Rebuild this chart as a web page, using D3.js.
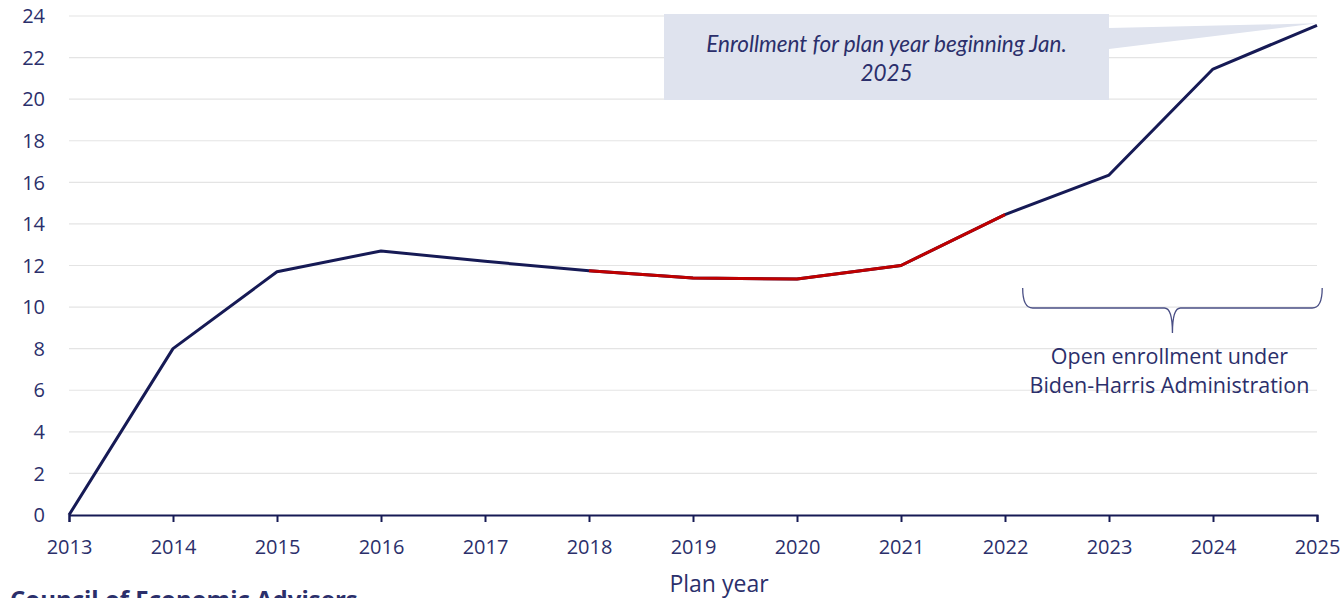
<!DOCTYPE html>
<html>
<head>
<meta charset="utf-8">
<script src="https://cdn.jsdelivr.net/npm/d3@7"></script>
<style>
  body { margin: 0; background: #fff; overflow: hidden; }
  text { font-family: "Open Sans", sans-serif; fill: #2b2f6b; }
</style>
</head>
<body>
<script>
// plan years and enrollment (millions)
const years = [2013, 2014, 2015, 2016, 2017, 2018, 2019, 2020, 2021, 2022, 2023, 2024, 2025];
const enrollment = [0, 8.0, 11.7, 12.7, 12.2, 11.75, 11.4, 11.35, 12.0, 14.45, 16.35, 21.45, 23.55];
const redYears = [2018, 2019, 2020, 2021, 2022];
const yTicks = [0, 2, 4, 6, 8, 10, 12, 14, 16, 18, 20, 22, 24];
const calloutLines = ['Enrollment for plan year beginning Jan.', '2025'];
const braceYears = [2022.17, 2025.05];
const braceLines = ['Open enrollment under', 'Biden-Harris Administration'];

const W = 1343, H = 598;
const navy = '#161a55', red = '#c00000', ink = '#2b2f6b';

const svg = d3.select('body').append('svg')
              .attr('width', W)
              .attr('height', H)

const x = d3.scaleLinear().domain([2013, 2025]).range([69, 1317]);
const y = d3.scaleLinear().domain([0, 24]).range([515, 16]);

// gridlines
svg.append('g')
   .selectAll('line')
   .data(yTicks.filter(d => d > 0))
   .enter()
   .append('line')
   .attr('x1', x(2013))
   .attr('x2', x(2025))
   .attr('y1', d => y(d))
   .attr('y2', d => y(d))
   .attr('stroke', '#e4e4e4')
   .attr('stroke-width', 1.2)

// y labels
svg.append('g')
   .selectAll('text')
   .data(yTicks)
   .enter()
   .append('text')
   .attr('x', 45)
   .attr('y', d => y(d))
   .attr('dy', '0.36em')
   .attr('text-anchor', 'end')
   .style('font-size', '20px')
   .text(d => d)

// x axis
const xAxis = svg.append('g')
   .attr('transform', `translate(0,${y(0)})`)
   .call(d3.axisBottom(x).tickValues(years).tickFormat(d3.format('d')).tickSize(7).tickPadding(18))
xAxis.select('.domain').attr('stroke', navy).attr('stroke-width', 2)
xAxis.selectAll('.tick line').attr('stroke', navy).attr('stroke-width', 2)
xAxis.selectAll('.tick text')
     .style('font-size', '20px')
     .style('font-family', '"Open Sans", sans-serif')
     .attr('fill', ink)

svg.append('text')
   .attr('x', 719)
   .attr('y', 592)
   .attr('text-anchor', 'middle')
   .style('font-size', '23px')
   .text('Plan year')

svg.append('text')
   .attr('x', 10)
   .attr('y', 608)
   .style('font-size', '24px')
   .style('font-weight', 'bold')
   .text('Council of Economic Advisers')

// callout
const boxX0 = 664, boxX1 = 1109, boxY0 = 14, boxY1 = 100;
svg.append('path')
   .attr('d', `M${boxX1},28 L${x(2025)},${y(enrollment[12]) - 2} L${boxX1},49 Z`)
   .attr('fill', '#dfe3ee')
svg.append('rect')
   .attr('x', boxX0)
   .attr('y', boxY0)
   .attr('width', boxX1 - boxX0)
   .attr('height', boxY1 - boxY0)
   .attr('fill', '#dfe3ee')
svg.append('g')
   .selectAll('text')
   .data(calloutLines)
   .enter()
   .append('text')
   .attr('x', (boxX0 + boxX1) / 2)
   .attr('y', (d, i) => 52 + i * 29)
   .attr('text-anchor', 'middle')
   .style('font-family', 'Lato, sans-serif')
   .style('font-style', 'italic')
   .style('font-size', '22.5px')
   .text(d => d)

// the line
const data = years.map((yr, i) => ({yr, v: enrollment[i]}));
const line = d3.line().x(d => x(d.yr)).y(d => y(d.v));
svg.append('path')
   .datum(data)
   .attr('d', line)
   .attr('fill', 'none')
   .attr('stroke', navy)
   .attr('stroke-width', 3)
   .attr('stroke-linejoin', 'round')
svg.append('path')
   .datum(data.filter(d => redYears.includes(d.yr)))
   .attr('d', line)
   .attr('fill', 'none')
   .attr('stroke', red)
   .attr('stroke-width', 3)
   .attr('stroke-linejoin', 'round')

// brace
const bx0 = x(braceYears[0]), bx1 = x(braceYears[1]), bm = (bx0 + bx1) / 2;
const braceTop = 288, braceMid = 308, braceTip = 333;
svg.append('path')
   .attr('d', `M${bx0},${braceTop} Q${bx0},${braceMid} ${bx0 + 10},${braceMid} L${bm - 8},${braceMid} Q${bm},${braceMid} ${bm},${braceTip}` +
              ` M${bm},${braceTip} Q${bm},${braceMid} ${bm + 8},${braceMid} L${bx1 - 10},${braceMid} Q${bx1},${braceMid} ${bx1},${braceTop}`)
   .attr('fill', 'none')
   .attr('stroke', '#4a4f85')
   .attr('stroke-width', 1.3)
svg.append('g')
   .selectAll('text')
   .data(braceLines)
   .enter()
   .append('text')
   .attr('x', bm - 3)
   .attr('y', (d, i) => 364 + i * 29)
   .attr('text-anchor', 'middle')
   .style('font-size', '21.5px')
   .text(d => d)
</script>
</body>
</html>
